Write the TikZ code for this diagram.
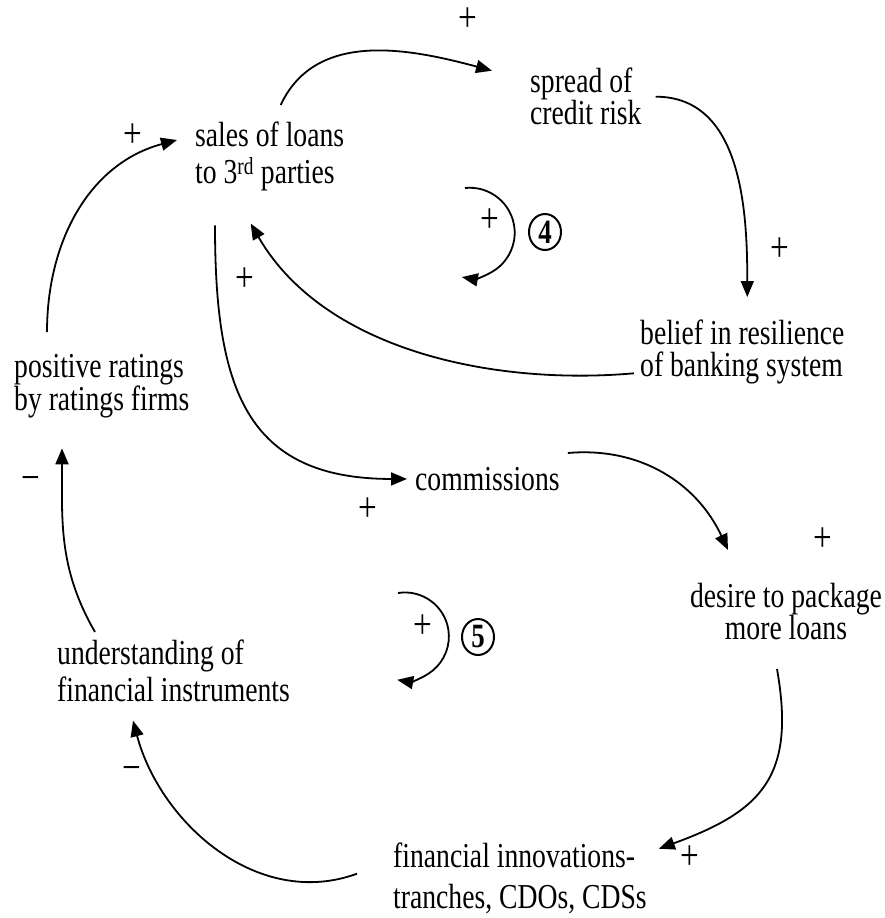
\documentclass[tikz,border=0pt]{standalone}
\usepackage{fontspec}
\setmainfont{Liberation Serif}[FakeStretch=0.79]
\usetikzlibrary{arrows.meta, shapes.geometric}

\begin{document}
\begin{tikzpicture}[
    x=1pt, y=1pt,
    var/.style={anchor=north west, inner sep=0pt, align=left, font=\fontsize{35}{32}\selectfont},
    sign/.style={inner sep=0pt, font=\fontsize{42}{42}\selectfont},
    loopno/.style={ellipse, draw, line width=2pt, minimum width=32pt, minimum height=36pt, inner sep=0pt, font=\fontsize{34}{34}\selectfont\bfseries},
    arrow/.style={-{Triangle[length=16pt, width=13pt]}, line width=1.8pt}
]
\useasboundingbox (0,0) rectangle (885,-918);

% Variables
\node[var] (sales) at (195,-122) {sales of loans\\[5pt]to 3\textsuperscript{rd} parties};
\node[var] (spread) at (530,-68) {spread of\\credit risk};
\node[var] (belief) at (640,-320) {belief in resilience\\of banking system};
\node[var] (positive) at (14,-354) {positive ratings\\by ratings firms};
\node[var] (comm) at (415,-467) {commissions};
\node[var, anchor=north, align=center] (desire) at (786,-583) {desire to package\\more loans};
\node[var] (under) at (57,-640) {understanding of\\[3pt]financial instruments};
\node[var] (innov) at (393,-843) {financial innovations-\\[9pt]tranches, CDOs, CDSs};

% Causal links
\draw[arrow] ([shift={(11,17)}]sales.north) to[out=65, in=165] ([shift={(-38,26)}]spread.west);
\draw[arrow] ([xshift=14pt]spread.east) to[out=0, in=90] ([shift={(5,23)}]belief.north);
\draw[arrow] ([shift={(-6,-21)}]belief.west) to[out=185, in=-60, looseness=0.9] ([shift={(-19,-32)}]sales.south);
\draw[arrow] ([shift={(20,-34)}]sales.south west) to[out=-90, in=180, looseness=1.3] ([xshift=-8pt]comm.west);
\draw[arrow] ([shift={(8,14)}]comm.north east) to[out=5, in=115] ([shift={(-58,33)}]desire.north);
\draw[arrow] ([shift={(-9,-29)}]desire.south) to[out=-80, in=20, looseness=1.3] ([shift={(12,30)}]innov.east);
\draw[arrow] ([shift={(-36,5)}]innov.west) to[out=200, in=-75] ([shift={(76,-19)}]under.south west);
\draw[arrow] ([shift={(38,8)}]under.north west) to[out=120, in=-90] ([shift={(48,-30)}]positive.south west);
\draw[arrow] ([shift={(33,22)}]positive.north west) to[out=90, in=195] ([shift={(-18,-18)}]sales.north west);

% Polarity signs
\node[sign] (s1) at (468,-20) {+};
\node[sign] (s2) at (780,-250) {+};
\node[sign] (s3) at (245,-280) {+};
\node[sign] (s4) at (368,-510) {+};
\node[sign] (s5) at (823,-540) {+};
\node[sign] (s6) at (690,-858) {+};
\node[sign] (s7) at (132,-774) {−};
\node[sign] (s8) at (31,-484) {−};
\node[sign] (s9) at (133,-136) {+};

% Loop markers
\node[loopno] (loopA) at (545,-232) {4};
\node[sign] (loopAsign) at (490,-221) {+};
\coordinate (loopAstart) at (465,-188);
\draw[arrow] (loopAstart) arc[start angle=96, end angle=-100, radius=45];

\node[loopno] (loopB) at (478,-637) {5};
\node[sign] (loopBsign) at (423,-627) {+};
\coordinate (loopBstart) at (398,-593);
\draw[arrow] (loopBstart) arc[start angle=99, end angle=-100, radius=44];

\end{tikzpicture}
\end{document}
